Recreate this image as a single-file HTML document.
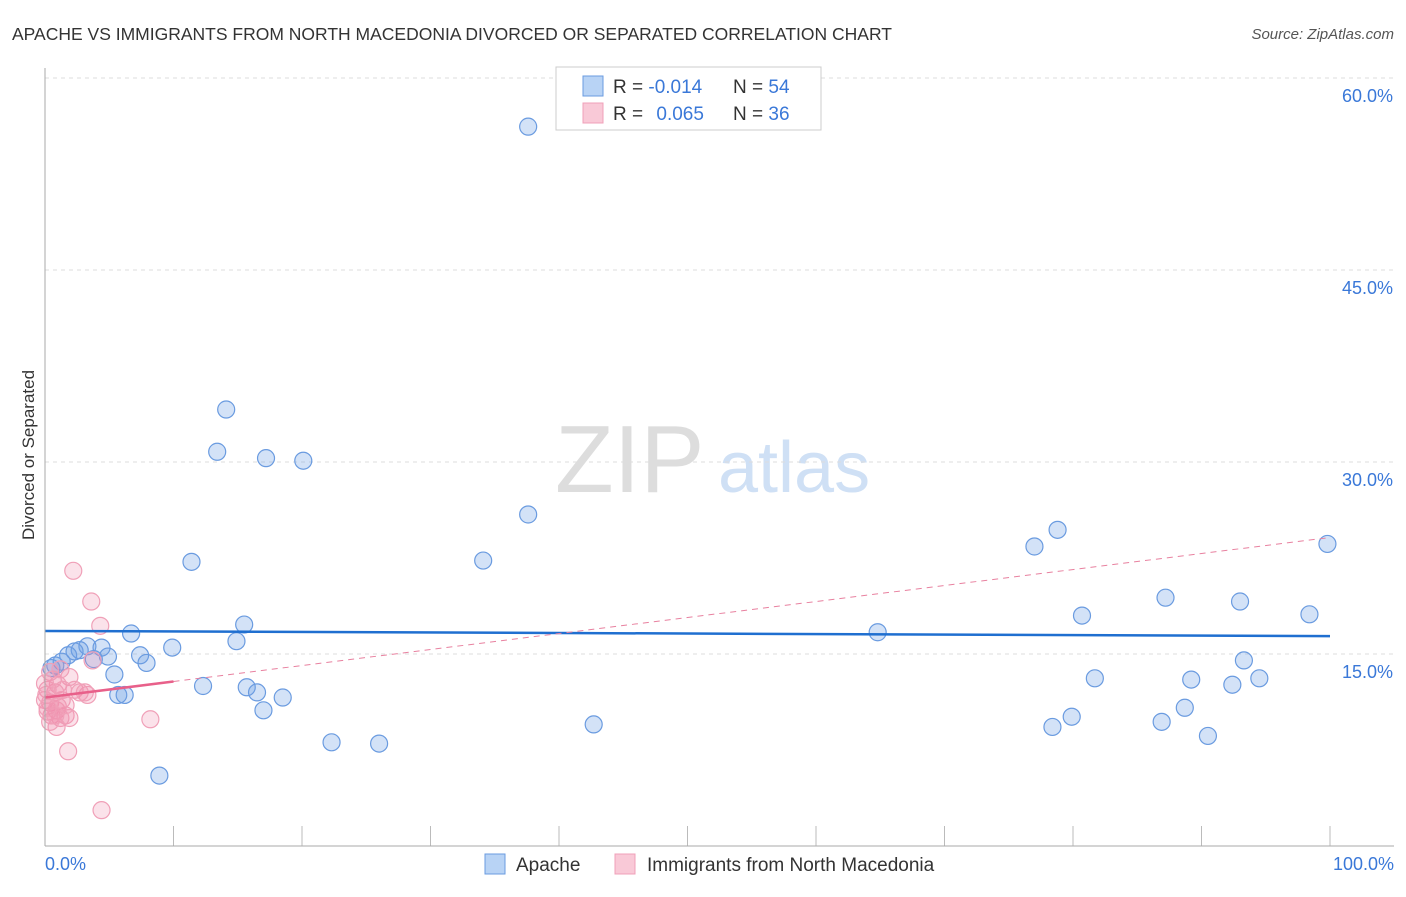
<!DOCTYPE html>
<html><head><meta charset="utf-8"><style>
body{margin:0;background:#fff;font-family:"Liberation Sans",sans-serif}
svg text{font-family:"Liberation Sans",sans-serif}
</style></head><body>
<svg id="c" width="1406" height="892">
<text x="12" y="40" font-size="17.5" fill="#333">APACHE VS IMMIGRANTS FROM NORTH MACEDONIA DIVORCED OR SEPARATED CORRELATION CHART</text>
<text x="1394" y="39" font-size="15" fill="#555" font-style="italic" text-anchor="end">Source: ZipAtlas.com</text>
<text x="555" y="492" font-size="96" fill="#ddd" font-family="Liberation Serif,serif">ZIP</text>
<text x="718" y="492" font-size="72" fill="#cfe0f5">atlas</text>
<text transform="translate(34,455) rotate(-90)" font-size="17" fill="#333" text-anchor="middle">Divorced or Separated</text>
<g id="grid"></g><g id="ticks"></g><g id="pts"></g><g id="lines"></g>
<line x1="45" y1="68" x2="45" y2="846" stroke="#aaa"/>
<line x1="45" y1="846" x2="1394" y2="846" stroke="#aaa"/>
<text x="45" y="870" font-size="18" fill="#3a78d8">0.0%</text>
<text x="1394" y="870" font-size="18" fill="#3a78d8" text-anchor="end">100.0%</text>
<g>
<rect x="556" y="67" width="265" height="63" fill="#fff" stroke="#ccc"/>
<rect x="583" y="76" width="20" height="20" fill="#b8d3f5" stroke="#6a9be0"/>
<rect x="583" y="103" width="20" height="20" fill="#f9c9d7" stroke="#f0a0b8"/>
<text x="613" y="93" font-size="19" fill="#333">R = <tspan fill="#3a78d8">-0.014</tspan></text>
<text x="733" y="93" font-size="19" fill="#333">N = <tspan fill="#3a78d8">54</tspan></text>
<text x="613" y="120" font-size="19" fill="#333">R = <tspan fill="#3a78d8" dx="8">0.065</tspan></text>
<text x="733" y="120" font-size="19" fill="#333">N = <tspan fill="#3a78d8">36</tspan></text>
</g>
<g>
<rect x="485" y="854" width="20" height="20" fill="#b8d3f5" stroke="#6a9be0"/>
<text x="516" y="871" font-size="19" fill="#333">Apache</text>
<rect x="615" y="854" width="20" height="20" fill="#f9c9d7" stroke="#f0a0b8"/>
<text x="647" y="871" font-size="19" fill="#333">Immigrants from North Macedonia</text>
</g>
</svg>
<script>
const yTicks=[15,30,45,60];
const yTickLabels=["15.0%","30.0%","45.0%","60.0%"];
const xTicks=[10,20,30,40,50,60,70,80,90,100];
const apacheX=[37.6,14.1,13.4,17.2,20.1,37.6,34.1,11.4,15.5,6.7,14.9,9.9,3.3,4.4,2.7,1.8,2.3,4.9,3.8,7.4,7.9,0.8,1.3,5.4,12.3,15.7,5.7,6.2,16.5,18.5,17.0,8.9,22.3,26.0,42.7,64.8,77.0,78.8,80.7,81.7,79.9,78.4,87.2,89.2,88.7,86.9,90.5,93.0,93.3,92.4,94.5,98.4,99.8,0.5];
const apacheY=[56.2,34.1,30.8,30.3,30.1,25.9,22.3,22.2,17.3,16.6,16.0,15.5,15.6,15.5,15.3,14.9,15.2,14.8,14.6,14.9,14.3,14.1,14.4,13.4,12.5,12.4,11.8,11.8,12.0,11.6,10.6,5.5,8.1,8.0,9.5,16.7,23.4,24.7,18.0,13.1,10.1,9.3,19.4,13.0,10.8,9.7,8.6,19.1,14.5,12.6,13.1,18.1,23.6,13.9];
const macX=[2.2,3.6,4.3,3.7,1.9,1.0,0.4,0.8,2.3,3.3,1.3,0.4,0.9,1.6,0.5,1.2,1.9,8.2,0.9,1.8,4.4,0.2,0.6,0.0,0.2,1.4,2.7,1.0,0.1,0.4,1.6,1.2,0.8,0.2,3.1,0.0];
const macY=[21.5,19.1,17.2,14.5,13.2,12.6,13.6,12.0,12.2,11.8,11.4,11.2,10.6,10.2,10.2,10.0,10.0,9.9,9.3,7.4,2.8,12.2,13.0,11.4,10.5,12.2,12.0,10.9,11.8,9.7,11.0,13.8,10.2,10.8,12.0,12.7];
const apacheTrend=[16.8,16.4];
const macTrend=[11.6,24.1];
const macSolidEnd=10;
const NS="http://www.w3.org/2000/svg";
const xs=v=>45+v*12.85, ys=v=>846-v*12.8;
function mk(p,t,a){const e=document.createElementNS(NS,t);for(const k in a)e.setAttribute(k,a[k]);document.getElementById(p).appendChild(e);return e;}
yTicks.forEach((t,i)=>{
 const g=mk('grid','line',{x1:45,x2:1394,y1:ys(t),y2:ys(t),stroke:'#ddd','stroke-dasharray':'4,4'});
 
 
 const l=mk('grid','text',{x:1393,y:ys(t)+24,'font-size':18,fill:'#3a78d8','text-anchor':'end'});
 l.textContent=yTickLabels[i];
 
 
});
xTicks.forEach(t=>{
 const e=mk('ticks','line',{x1:xs(t),x2:xs(t),y1:826,y2:846,stroke:'#bbb'});
 
 
});
apacheX.forEach((v,i)=>{
 const c=mk('pts','circle',{cx:xs(v),cy:ys(apacheY[i]),r:8.5,fill:'rgba(110,160,230,0.3)',stroke:'#6a9be0','stroke-width':1.2});
 
 
});
macX.forEach((v,i)=>{
 const c=mk('pts','circle',{cx:xs(v),cy:ys(macY[i]),r:8.5,fill:'rgba(240,140,170,0.25)',stroke:'#f0a0b8','stroke-width':1.2});
 
 
});
const bl=mk('lines','line',{x1:xs(0),x2:xs(100),y1:ys(apacheTrend[0]),y2:ys(apacheTrend[1]),stroke:'#1f6fd0','stroke-width':2.5});


const mEnd=macTrend[0]+(macTrend[1]-macTrend[0])*macSolidEnd/100;
const pd=mk('lines','line',{x1:xs(macSolidEnd),x2:xs(100),y1:ys(mEnd),y2:ys(macTrend[1]),stroke:'#e8809f','stroke-width':1,'stroke-dasharray':'6,5'});


const ps=mk('lines','line',{x1:xs(0),x2:xs(macSolidEnd),y1:ys(macTrend[0]),y2:ys(mEnd),stroke:'#e8608a','stroke-width':2.5});


</script>
</body></html>
